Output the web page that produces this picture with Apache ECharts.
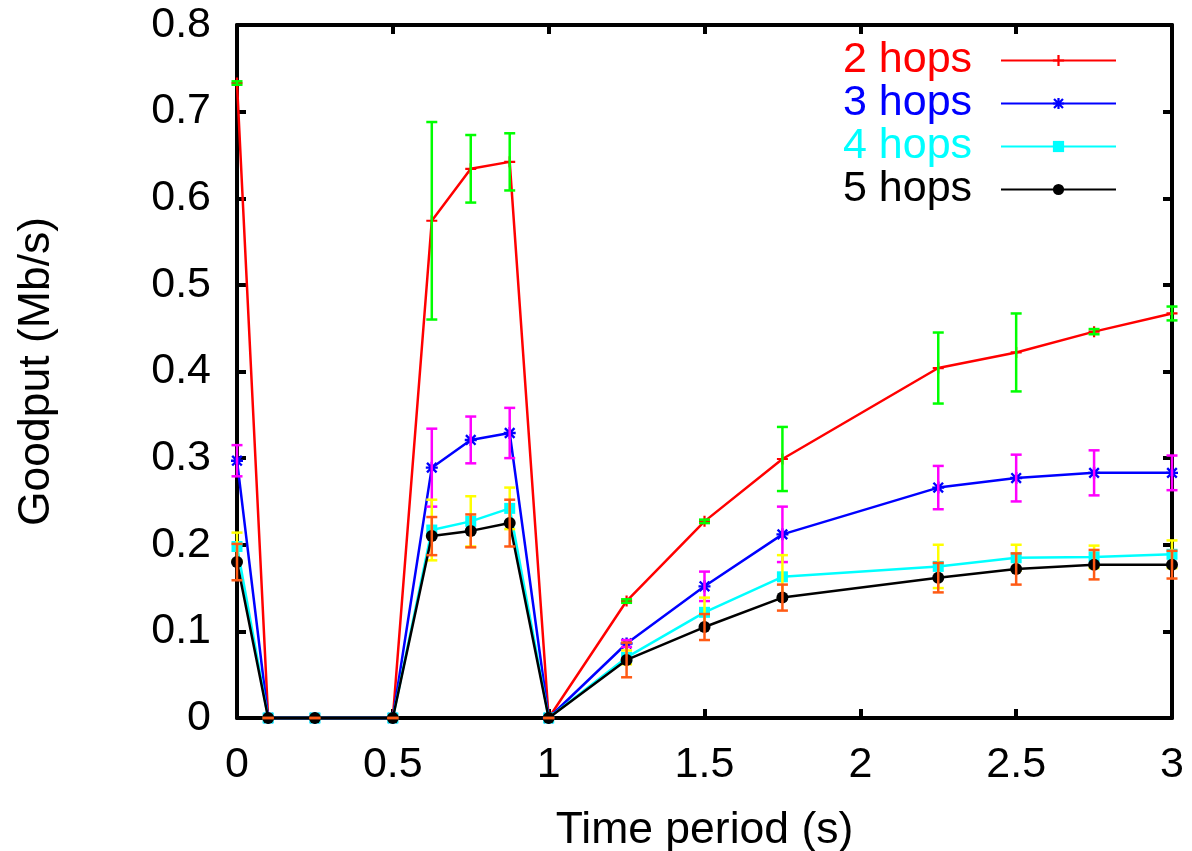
<!DOCTYPE html>
<html>
<head>
<meta charset="utf-8">
<script src="https://cdn.jsdelivr.net/npm/echarts@6/dist/echarts.min.js"></script>
<style>
html,body{margin:0;padding:0;background:#fff;}
#chart{width:1192px;height:851px;}
</style>
</head>
<body>
<div id="chart"></div>
<script>
// ---- data ----
var timePoints = [0, 0.1, 0.25, 0.5, 0.625, 0.75, 0.875, 1, 1.25, 1.5, 1.75, 2.25, 2.5, 2.75, 3];
var seriesNames = ['2 hops', '3 hops', '4 hops', '5 hops'];
var hops2 = [0.733, 0, 0, 0, 0.574, 0.634, 0.642, 0, 0.135, 0.227, 0.299, 0.404, 0.422, 0.446, 0.467];
var hops2Err = [0.002, 0, 0, 0, 0.114, 0.039, 0.033, 0, 0.002, 0.002, 0.037, 0.041, 0.045, 0.003, 0.008];
var hops3 = [0.297, 0, 0, 0, 0.289, 0.321, 0.329, 0, 0.086, 0.152, 0.212, 0.266, 0.277, 0.283, 0.283];
var hops3Err = [0.018, 0, 0, 0, 0.045, 0.027, 0.029, 0, 0.004, 0.017, 0.032, 0.025, 0.027, 0.026, 0.020];
var hops4 = [0.198, 0, 0, 0, 0.217, 0.227, 0.242, 0, 0.070, 0.122, 0.163, 0.175, 0.185, 0.186, 0.189];
var hops4Err = [0.016, 0, 0, 0, 0.035, 0.029, 0.024, 0, 0.008, 0.017, 0.025, 0.025, 0.015, 0.013, 0.016];
var hops5 = [0.180, 0, 0, 0, 0.210, 0.216, 0.225, 0, 0.067, 0.105, 0.139, 0.162, 0.172, 0.177, 0.177];
var hops5Err = [0.021, 0, 0, 0, 0.022, 0.019, 0.027, 0, 0.020, 0.015, 0.015, 0.017, 0.018, 0.017, 0.016];

var lineColors = ['#ff0000', '#0000ff', '#00ffff', '#000000'];
var errColors = ['#00ff00', '#ff00ff', '#ffff00', '#ff5a14'];

var FONT = "'Liberation Sans', Arial, Helvetica, sans-serif";

var symPlus = 'path://M-1,-5 L1,-5 L1,-1 L5,-1 L5,1 L1,1 L1,5 L-1,5 L-1,1 L-5,1 L-5,-1 L-1,-1 Z';
var symStar = 'path://M-1,-5 L1,-5 L1,5 L-1,5 Z ' +
  'M-4.7,-3.3 L-3.3,-4.7 L4.7,3.3 L3.3,4.7 Z ' +
  'M3.3,-4.7 L4.7,-3.3 L-3.3,4.7 L-4.7,3.3 Z ' +
  'M-5,-1 L5,-1 L5,1 L-5,1 Z';
var symbols = [symPlus, symStar, 'rect', 'circle'];
var symbolSizes = [11, 12, 11, 12];

var values = [hops2, hops3, hops4, hops5];
var errs = [hops2Err, hops3Err, hops4Err, hops5Err];

function pairs(ys) {
  return timePoints.map(function (x, i) { return [x, ys[i]]; });
}
function triples(ys, es) {
  return timePoints.map(function (x, i) { return [x, ys[i], es[i]]; });
}

function errRender(color) {
  return function (params, api) {
    var x = api.value(0), y = api.value(1), e = api.value(2);
    var top = api.coord([x, y + e]);
    var bot = api.coord([x, y - e]);
    var hw = 5.5;
    var st = { stroke: color, lineWidth: 2.5 };
    return {
      type: 'group',
      children: [
        { type: 'line', shape: { x1: top[0], y1: top[1], x2: bot[0], y2: bot[1] }, style: st },
        { type: 'line', shape: { x1: top[0] - hw, y1: top[1], x2: top[0] + hw, y2: top[1] }, style: st },
        { type: 'line', shape: { x1: bot[0] - hw, y1: bot[1], x2: bot[0] + hw, y2: bot[1] }, style: st }
      ]
    };
  };
}

var series = [];
for (var i = 0; i < 4; i++) {
  series.push({
    name: seriesNames[i],
    type: 'line',
    data: pairs(values[i]),
    symbol: symbols[i],
    symbolSize: symbolSizes[i],
    showAllSymbol: true,
    clip: false,
    z: 2 + i * 2,
    lineStyle: { color: lineColors[i], width: 2.5 },
    itemStyle: { color: lineColors[i], borderWidth: 0 },
    emphasis: { disabled: true }
  });
  series.push({
    name: seriesNames[i] + ' err',
    type: 'custom',
    data: triples(values[i], errs[i]),
    renderItem: errRender(errColors[i]),
    clip: false,
    z: 3 + i * 2,
    silent: true
  });
}

var axisLineStyle = { color: '#000', width: 4 };
var tickStyle = { show: true, inside: true, length: 9, lineStyle: { color: '#000', width: 4 } };

var option = {
  animation: false,
  backgroundColor: '#fff',
  grid: { left: 237, right: 20, top: 25, bottom: 133, containLabel: false, outerBoundsMode: 'none' },
  legend: {
    data: seriesNames.map(function (n, i) {
      return { name: n, textStyle: { color: lineColors[i] } };
    }),
    orient: 'vertical',
    align: 'right',
    right: 70,
    top: 34,
    itemWidth: 115,
    itemHeight: 14,
    itemGap: 0,
    formatter: function (n) { return n + '  '; },
    textStyle: { fontFamily: FONT, fontSize: 43, lineHeight: 43 },
    selectedMode: false
  },
  xAxis: [{
    type: 'value', min: 0, max: 3, interval: 0.5,
    name: 'Time period (s)', nameLocation: 'middle', nameGap: 90,
    nameTextStyle: { fontFamily: FONT, fontSize: 44.5, color: '#000' },
    axisLine: { show: true, onZero: false, lineStyle: axisLineStyle },
    axisTick: tickStyle,
    axisLabel: { fontFamily: FONT, fontSize: 43, color: '#000', margin: 26 },
    splitLine: { show: false }
  }, {
    type: 'value', min: 0, max: 3, interval: 0.5, position: 'top',
    axisLine: { show: true, onZero: false, lineStyle: axisLineStyle },
    axisTick: tickStyle,
    axisLabel: { show: false },
    splitLine: { show: false }
  }],
  yAxis: [{
    type: 'value', min: 0, max: 0.8, interval: 0.1,
    name: 'Goodput (Mb/s)', nameLocation: 'middle', nameGap: 178,
    nameTextStyle: { fontFamily: FONT, fontSize: 44.5, color: '#000' },
    axisLine: { show: true, onZero: false, lineStyle: axisLineStyle },
    axisTick: tickStyle,
    axisLabel: { fontFamily: FONT, fontSize: 43, color: '#000', margin: 26 },
    splitLine: { show: false }
  }, {
    type: 'value', min: 0, max: 0.8, interval: 0.1, position: 'right',
    axisLine: { show: true, onZero: false, lineStyle: axisLineStyle },
    axisTick: tickStyle,
    axisLabel: { show: false },
    splitLine: { show: false }
  }],
  series: series
};

var chart = echarts.init(document.getElementById('chart'), null, { renderer: 'canvas' });
chart.setOption(option);
</script>
</body>
</html>
